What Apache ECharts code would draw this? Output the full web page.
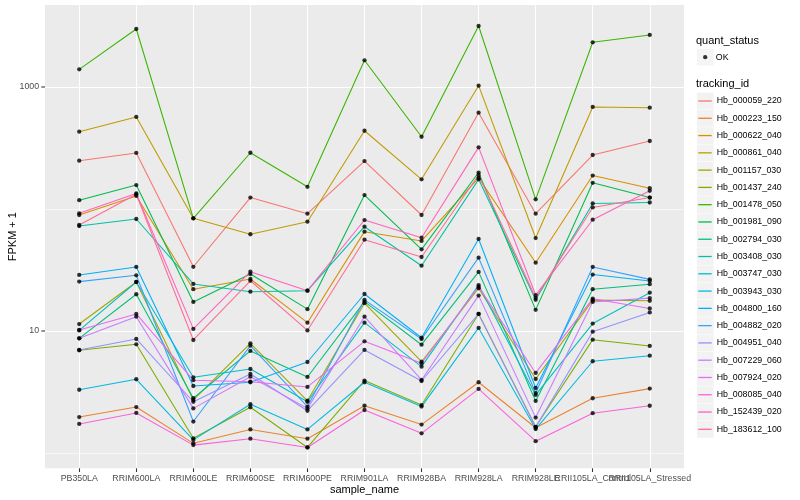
<!DOCTYPE html>
<html>
<head>
<meta charset="utf-8">
<script src="https://cdn.jsdelivr.net/npm/echarts@6/dist/echarts.min.js"></script>
<style>
html,body{margin:0;padding:0;background:#ffffff;}
#chart{width:800px;height:500px;}
</style>
</head>
<body>
<div id="chart"></div>
<script>
// ---- categories & tick labels ----
const categories = ["PB350LA","RRIM600LA","RRIM600LE","RRIM600SE","RRIM600PE","RRIM901LA","RRIM928BA","RRIM928LA","RRIM928LE","RRII105LA_Control","RRII105LA_Stressed"];
const yMajorTicks = [10, 1000];
const yMinorTicks = [1, 100];
const trackingIds = ["Hb_000059_220","Hb_000223_150","Hb_000622_040","Hb_000861_040","Hb_001157_030","Hb_001437_240","Hb_001478_050","Hb_001981_090","Hb_002794_030","Hb_003408_030","Hb_003747_030","Hb_003943_030","Hb_004800_160","Hb_004882_020","Hb_004951_040","Hb_007229_060","Hb_007924_020","Hb_008085_040","Hb_152439_020","Hb_183612_100"];
const quantStatus = ["OK"];

// ---- series values (FPKM + 1) ----
const Hb_000059_220 = [249, 288, 33.6, 124, 91.5, 247, 89.3, 616, 91.5, 277, 361];
const Hb_000223_150 = [1.97, 2.38, 1.20, 1.56, 1.31, 2.44, 1.71, 3.80, 1.61, 2.81, 3.37];
const Hb_000622_040 = [89.3, 128, 22.0, 26.7, 11.7, 65.2, 54.7, 180, 36.3, 188, 148];
const Hb_000861_040 = [430, 568, 83.9, 62.1, 78.7, 438, 175, 1025, 57.8, 686, 677];
const Hb_001157_030 = [11.4, 25.2, 2.72, 7.93, 2.68, 16.9, 5.60, 22.4, 4.04, 17.9, 17.7];
const Hb_001437_240 = [6.95, 7.78, 1.32, 2.37, 1.11, 3.92, 2.47, 13.8, 1.64, 8.49, 7.54];
const Hb_001478_050 = [1396, 2989, 83.9, 289, 152, 1655, 391, 3162, 120, 2325, 2670];
const Hb_001981_090 = [118, 157, 17.3, 29.3, 15.1, 130, 46.7, 199, 14.9, 164, 124];
const Hb_002794_030 = [8.71, 20.0, 2.81, 6.86, 4.20, 17.4, 7.72, 30.5, 2.67, 22.0, 24.2];
const Hb_003408_030 = [72.5, 82.8, 24.3, 21.0, 21.4, 71.6, 34.3, 175, 18.0, 111, 113];
const Hb_003747_030 = [10.1, 25.2, 4.17, 4.88, 2.63, 11.7, 5.10, 23.8, 2.99, 11.5, 20.6];
const Hb_003943_030 = [3.30, 4.02, 1.28, 2.51, 1.56, 3.80, 2.40, 10.6, 1.57, 5.65, 6.27];
const Hb_004800_160 = [28.8, 33.5, 3.54, 3.80, 5.57, 20.1, 8.81, 56.8, 3.41, 29.0, 25.7];
const Hb_004882_020 = [25.4, 28.6, 1.81, 7.58, 2.40, 18.0, 8.60, 39.9, 3.10, 33.5, 26.5];
const Hb_004951_040 = [6.99, 8.60, 2.63, 4.44, 2.22, 6.99, 3.89, 13.8, 1.63, 9.87, 14.2];
const Hb_007229_060 = [8.71, 13.1, 2.32, 4.22, 2.32, 13.1, 3.97, 19.5, 1.95, 17.3, 18.6];
const Hb_007924_020 = [10.2, 13.8, 3.95, 3.84, 3.48, 8.23, 5.44, 23.1, 4.53, 18.4, 15.3];
const Hb_008085_040 = [1.73, 2.13, 1.16, 1.31, 1.11, 2.25, 1.45, 3.35, 1.25, 2.12, 2.44];
const Hb_152439_020 = [92.2, 134, 10.4, 30.6, 21.4, 81.2, 58.2, 320, 19.7, 81.7, 141];
const Hb_183612_100 = [73.9, 132, 8.44, 25.8, 10.1, 56.0, 40.4, 190, 18.7, 103, 124];

const seriesValues = [Hb_000059_220, Hb_000223_150, Hb_000622_040, Hb_000861_040, Hb_001157_030, Hb_001437_240, Hb_001478_050, Hb_001981_090, Hb_002794_030, Hb_003408_030, Hb_003747_030, Hb_003943_030, Hb_004800_160, Hb_004882_020, Hb_004951_040, Hb_007229_060, Hb_007924_020, Hb_008085_040, Hb_152439_020, Hb_183612_100];

const colors = ["#F8766D","#EA8331","#D89000","#C09B00","#A3A500","#7CAE00","#39B600","#00BB4E","#00BF7D","#00C1A3","#00BFC4","#00BAE0","#00B0F6","#35A2FF","#9590FF","#C77CFF","#E76BF3","#FA62DB","#FF62BC","#FF6C91"];

const FONT = "'Liberation Sans', Arial, Helvetica, sans-serif";
// even / odd category positions on two overlaid axes so that no label gets overlap-pruned
const xTicksEven = categories.map((c, i) => i).filter(i => i % 2 === 0);
const xTicksOdd = categories.map((c, i) => i).filter(i => i % 2 === 1);

const lineSeries = trackingIds.map((id, k) => ({
  name: id,
  type: 'line',
  color: colors[k],
  showSymbol: false,
  symbol: 'none',
  silent: true,
  z: 2,
  lineStyle: { width: 1.07, color: colors[k] },
  itemStyle: { color: colors[k] },
  data: seriesValues[k].map((v, i) => [i, v])
}));

const pointData = [];
seriesValues.forEach(arr => arr.forEach((v, i) => pointData.push([i, v])));

function xAxisDef(ticks, withName) {
  return {
    type: 'value', min: -0.6, max: 10.6, position: 'bottom', offset: 0,
    name: withName ? 'sample_name' : '', nameLocation: 'middle', nameGap: 16, nameMoveOverlap: false,
    nameTextStyle: { fontFamily: FONT, fontSize: 11, color: '#000', verticalAlign: 'top' },
    axisLine: { show: false },
    axisTick: { show: true, length: 3.7, customValues: ticks, lineStyle: { color: '#333333', width: 1.07 } },
    axisLabel: { customValues: ticks, margin: 5.5, fontSize: 8.8, color: '#4D4D4D', fontFamily: FONT,
      hideOverlap: false, showMinLabel: true, showMaxLabel: true,
      formatter: v => categories[Math.round(v)] },
    splitLine: { show: true, lineStyle: { color: '#ffffff', width: 1.07 } }
  };
}

const option = {
  animation: false,
  backgroundColor: '#ffffff',
  textStyle: { fontFamily: FONT },
  title: [
    { text: 'quant_status', left: 696, top: 34.5, padding: 0,
      textStyle: { fontFamily: FONT, fontSize: 11, fontWeight: 'normal', color: '#000', lineHeight: 12 } },
    { text: 'tracking_id', left: 696, top: 78.3, padding: 0,
      textStyle: { fontFamily: FONT, fontSize: 11, fontWeight: 'normal', color: '#000', lineHeight: 12 } }
  ],
  grid: { left: 45, right: 116, top: 5, bottom: 31.7, show: true, backgroundColor: '#EBEBEB', borderWidth: 0,
    containLabel: false, outerBoundsMode: 'none' },
  legend: [
    {
      data: quantStatus, orient: 'vertical', left: 696.8, top: 57.2 - 8.4, padding: 0,
      icon: 'rect', itemWidth: 16.8, itemHeight: 16.8, itemGap: 0.48, selectedMode: false,
      itemStyle: { color: '#F2F2F2' }, formatter: () => '', textStyle: { fontSize: 1 }
    },
    {
      data: trackingIds, orient: 'vertical', left: 696.8, top: 101 - 8.4, padding: 0,
      icon: 'rect', itemWidth: 16.8, itemHeight: 16.8, itemGap: 0.48, selectedMode: false,
      itemStyle: { color: '#F2F2F2' }, formatter: () => '', textStyle: { fontSize: 1 }
    },
    {
      data: quantStatus, orient: 'vertical', left: 705.2 - 2.15, top: 57.2 - 8.64, padding: 0,
      icon: 'circle', itemWidth: 4.3, itemHeight: 4.3, itemGap: 0, selectedMode: false,
      itemStyle: { color: '#000' },
      textStyle: { fontFamily: FONT, fontSize: 8.8, color: '#000', lineHeight: 17.28, padding: [0, 0, 0, 3.5] }
    },
    {
      data: trackingIds, orient: 'vertical', left: 698.3, top: 101 - 8.64, padding: 0,
      icon: 'rect', itemWidth: 13.4, itemHeight: 1.3, itemGap: 0, selectedMode: false,
      textStyle: { fontFamily: FONT, fontSize: 8.8, color: '#000', lineHeight: 17.28 }
    }
  ],
  xAxis: [xAxisDef(xTicksEven, true), xAxisDef(xTicksOdd, false)],
  yAxis: [
    {
      type: 'log', logBase: 10, min: 0.749, max: 4700,
      name: 'FPKM + 1', nameLocation: 'middle', nameGap: 27, nameMoveOverlap: false,
      nameTextStyle: { fontFamily: FONT, fontSize: 11, color: '#000' },
      axisLine: { show: false },
      axisTick: { show: false, customValues: yMajorTicks },
      axisLabel: { customValues: yMajorTicks, margin: 0, fontSize: 8.8, color: '#4D4D4D', fontFamily: FONT,
        formatter: v => String(Math.round(v)) + '{s|}{t|}',
        rich: {
          s: { width: 2.2, height: 1 },
          t: { width: 3.7, height: 1.07, backgroundColor: '#333333' }
        } },
      splitLine: { show: true, lineStyle: { color: '#ffffff', width: 1.07 } }
    },
    {
      type: 'log', logBase: 10, min: 0.749, max: 4700, position: 'left', offset: 0,
      axisLine: { show: false },
      axisTick: { show: false, customValues: yMinorTicks },
      axisLabel: { show: false, customValues: yMinorTicks },
      splitLine: { show: true, lineStyle: { color: '#ffffff', width: 0.55 } }
    }
  ],
  series: lineSeries.concat([{
    name: 'OK',
    type: 'scatter',
    symbol: 'circle',
    symbolSize: 4.3,
    silent: true,
    z: 5,
    itemStyle: { color: '#000000' },
    data: pointData
  }])
};

const chart = echarts.init(document.getElementById('chart'), null, { renderer: 'canvas' });
chart.setOption(option);
</script>
</body>
</html>
